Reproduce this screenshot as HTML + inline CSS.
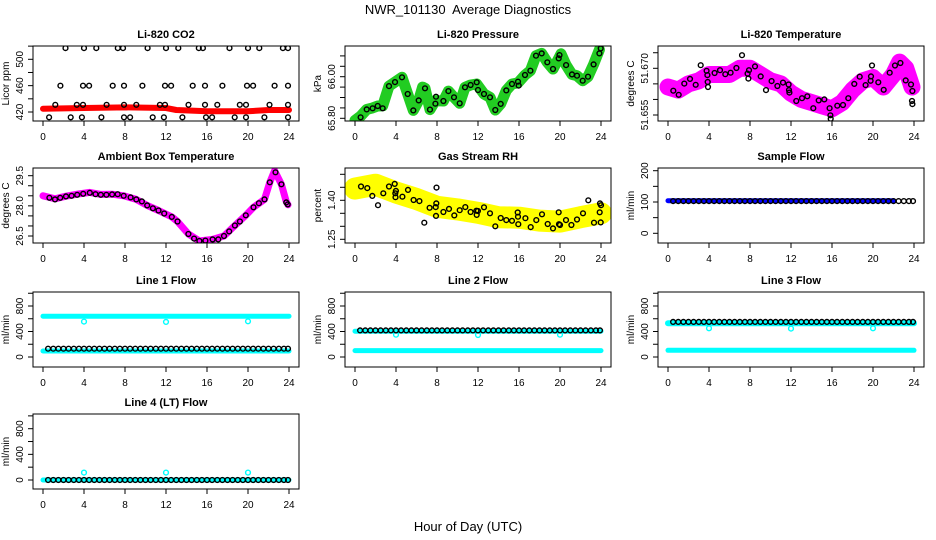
<!DOCTYPE html>
<html><head><meta charset="utf-8"><style>
html,body{margin:0;padding:0;background:#fff;}
svg{display:block;font-family:"Liberation Sans",Arial,sans-serif;}
</style></head><body>
<svg id="chart" width="936" height="540" viewBox="0 0 936 540" xmlns="http://www.w3.org/2000/svg">
<text x="468" y="14" text-anchor="middle" font-size="13">NWR_101130&#160; Average Diagnostics</text>
<text x="468" y="531" text-anchor="middle" font-size="13">Hour of Day (UTC)</text>
</svg>
<script>
// ---------- data ----------
const xTicks = [0,4,8,12,16,20,24];
const halfHours = [0.5,1,1.5,2,2.5,3,3.5,4,4.5,5,5.5,6,6.5,7,7.5,8,8.5,9,9.5,10,10.5,11,11.5,12,12.5,13,13.5,14,14.5,15,15.5,16,16.5,17,17.5,18,18.5,19,19.5,20,20.5,21,21.5,22,22.5,23,23.5,23.9];

// CO2
const co2BlackHours = [2.2,4,5.2,7.3,7.8,10.2,12,13.2,15.2,15.6,18.2,20,21.1,23.4,23.9,
 1.7,3.9,4.5,6.8,7.9,9.7,11.9,12.5,14.6,15.8,17.5,19.9,20.5,22.6,23.9,
 1.2,3.3,3.9,6.2,7.9,9.1,11.4,11.9,14.2,15.8,17.0,19.2,19.8,22.1,23.9,
 0.6,2.7,3.8,5.7,7.9,8.5,10.7,11.8,13.6,15.9,16.5,18.7,19.8,21.6,23.9];
const co2BlackValues = [517,517,517,517,517,517,517,517,517,517,517,517,517,517,517,
 460,460,460,460,460,460,460,460,460,460,460,460,460,460,460,
 431,431,431,431,431,431,431,431,431,431,431,431,431,431,431,
 412,412,412,412,412,412,412,412,412,412,412,412,412,412,412];
const co2BandHours = [0,4,8,12,13,16,20,22,24];
const co2BandValues = [425,426,427,426,423,421,421,423,423];

// Pressure
const presHours = [0.55,1.14,1.72,2.21,2.70,3.32,3.90,4.59,5.14,5.69,6.21,6.83,7.32,7.84,7.90,8.62,9.11,9.66,10.21,10.73,11.28,11.87,12.0,12.59,13.17,13.69,14.21,14.76,15.32,15.9,15.97,16.59,17.11,17.66,18.21,18.76,19.32,19.87,19.95,20.6,21.17,21.66,22.21,22.73,23.28,23.84,23.97];
const presValues = [65.805,65.843,65.848,65.859,65.848,65.955,65.974,65.997,65.917,65.838,65.886,65.944,65.842,65.870,65.904,65.883,65.931,65.901,65.872,65.949,65.960,65.973,65.936,65.917,65.901,65.840,65.869,65.934,65.965,65.976,65.957,66.008,66.029,66.101,66.112,66.069,66.037,66.088,66.104,66.056,66.011,66.005,65.981,66.000,66.059,66.112,66.136];
const presBandHours = [0,0.55,1.14,1.72,2.21,2.70,3.32,3.90,4.59,5.14,5.69,6.21,6.6,6.83,7.32,7.84,8.62,9.11,9.66,10.21,10.73,11.28,11.87,12.59,13.17,13.69,14.21,14.76,15.32,15.9,16.59,17.11,17.66,18.21,18.76,19.32,19.87,20.1,20.6,21.17,21.66,22.21,22.73,23.28,23.84];
const presBandValues = [65.79,65.81,65.843,65.85,65.859,65.86,65.955,65.974,65.997,65.917,65.838,65.886,65.95,65.944,65.842,65.885,65.883,65.931,65.901,65.872,65.949,65.960,65.965,65.917,65.901,65.840,65.869,65.934,65.965,65.970,66.008,66.029,66.101,66.112,66.069,66.037,66.088,66.11,66.056,66.011,66.005,65.981,66.000,66.059,66.130];

// Li-820 temperature
const tempHours = [0.52,1.04,1.59,2.15,2.70,3.19,3.77,3.84,3.87,3.90,4.55,5.07,5.59,6.11,6.67,7.22,7.77,7.84,7.90,8.49,9.04,9.56,10.11,10.67,11.22,11.77,11.80,11.84,12.52,13.07,13.59,14.18,14.70,15.25,15.77,15.84,15.87,16.52,17.07,17.59,18.18,18.70,19.28,19.77,19.80,19.90,20.52,21.04,21.63,22.15,22.67,23.19,23.71,23.84,23.80,23.84];
const tempValues = [51.6628,51.6615,51.6651,51.6666,51.6647,51.6710,51.6692,51.6678,51.6656,51.6640,51.6685,51.6694,51.6681,51.6686,51.6701,51.6742,51.6683,51.6667,51.6694,51.6706,51.6674,51.6630,51.6659,51.6643,51.6654,51.6648,51.6630,51.6622,51.6595,51.6604,51.6610,51.6572,51.6597,51.6600,51.6572,51.6549,51.6538,51.6580,51.6582,51.6604,51.6650,51.6673,51.6646,51.6660,51.6674,51.6709,51.6655,51.6631,51.6686,51.6709,51.6717,51.6661,51.6648,51.6627,51.6595,51.6585];
const tempBandHours = [0,1,2,3,4,5,6,7,8,9,10,11,12,13,14,15,16,17,18,19,20,21,22,22.6,23.2,23.8];
const tempBandValues = [51.664,51.663,51.665,51.666,51.668,51.668,51.668,51.670,51.670,51.668,51.666,51.665,51.662,51.660,51.659,51.658,51.657,51.659,51.663,51.666,51.667,51.664,51.668,51.672,51.670,51.664];

// Ambient box temperature
const ambHours = [0.62,1.17,1.68,2.24,2.79,3.34,3.92,4.57,5.12,5.64,6.19,6.74,7.29,7.87,8.55,9.10,9.65,10.17,10.72,11.27,11.82,12.57,13.12,14.19,14.74,15.26,15.84,16.55,17.10,17.66,18.17,18.72,19.21,19.79,20.54,21.06,21.61,22.13,22.68,23.26,23.74,23.87];
const ambValues = [28.40,28.32,28.40,28.47,28.50,28.55,28.60,28.65,28.58,28.55,28.55,28.57,28.58,28.50,28.42,28.32,28.22,28.02,27.88,27.77,27.62,27.45,27.22,26.60,26.37,26.25,26.27,26.33,26.33,26.50,26.73,27.02,27.22,27.53,27.93,28.13,28.32,29.17,29.67,29.07,28.17,28.07];
const ambBandHours = [0,0.62,1.17,2.24,3.34,4.57,5.64,6.74,7.87,9.10,10.17,11.27,12.57,13.12,14.19,15.26,16.55,17.66,18.72,19.79,20.54,21.61,22.13,22.6,23.26,23.74,23.9];
const ambBandValues = [28.50,28.42,28.35,28.48,28.58,28.67,28.57,28.58,28.50,28.32,28.02,27.77,27.45,27.22,26.60,26.25,26.33,26.50,27.02,27.53,27.93,28.32,29.17,29.75,29.07,28.20,28.05];

// Gas stream RH
const rhHours = [0.59,1.20,1.69,2.24,2.76,3.32,3.87,3.93,3.99,3.95,4.62,5.17,5.72,6.28,6.76,7.28,7.87,7.93,7.90,7.95,8.62,9.17,9.69,10.21,10.76,11.28,11.84,11.87,11.99,12.59,13.17,13.69,14.21,14.76,15.32,15.87,15.90,15.93,16.62,17.14,17.69,18.24,18.80,19.32,19.87,19.90,20.0,20.59,21.11,21.66,22.24,22.76,23.32,23.90,23.87,24.0,23.97];
const rhValues = [1.453,1.447,1.417,1.381,1.427,1.453,1.463,1.427,1.436,1.412,1.414,1.440,1.401,1.397,1.314,1.371,1.374,1.388,1.340,1.449,1.355,1.367,1.342,1.362,1.374,1.355,1.360,1.344,1.359,1.373,1.350,1.300,1.332,1.324,1.321,1.353,1.337,1.308,1.331,1.297,1.324,1.346,1.309,1.292,1.354,1.308,1.305,1.324,1.305,1.326,1.350,1.400,1.314,1.388,1.354,1.381,1.315];
const rhBandHours = [0,2,4,6,8,10,12,14,16,18,20,22,24];
const rhBandValues = [1.445,1.460,1.430,1.405,1.375,1.365,1.352,1.335,1.333,1.322,1.318,1.335,1.350];

// Flows (black circles: half-hour averages)
const sampleBlack = [103,103,103,103,103,103,103,103,103,103,103,103,103,103,103,103,103,103,103,103,103,103,103,103,103,103,103,103,103,103,103,103,103,103,103,103,103,103,103,103,103,103,103,103,103,103,103,103];
const sampleBandHours = [0,22];
const sampleBandValues = [104,104];

const line1Black = [130,130,130,130,130,130,130,130,130,130,130,130,130,130,130,130,130,130,130,130,130,130,130,130,130,130,130,130,130,130,130,130,130,130,130,130,130,130,130,130,130,130,130,130,130,130,130,130];
const line1TopHours = [0,24]; const line1TopValues = [640,640];
const line1LowHours = [0,24]; const line1LowValues = [94,94];
const line1DipHours = [4,12,20]; const line1DipValues = [555,550,560];

const line2Black = [418,418,418,418,418,418,418,418,418,418,418,418,418,418,418,418,418,418,418,418,418,418,418,418,418,418,418,418,418,418,418,418,418,418,418,418,418,418,418,418,418,418,418,418,418,418,418,418];
const line2TopHours = [0,24]; const line2TopValues = [405,405];
const line2LowHours = [0,24]; const line2LowValues = [100,100];
const line2DipHours = [4,12,20]; const line2DipValues = [350,345,350];

const line3Black = [550,550,550,550,550,550,550,550,550,550,550,550,550,550,550,550,550,550,550,550,550,550,550,550,550,550,550,550,550,550,550,550,550,550,550,550,550,550,550,550,550,550,550,550,550,550,550,550];
const line3TopHours = [0,24]; const line3TopValues = [530,530];
const line3LowHours = [0,24]; const line3LowValues = [105,105];
const line3DipHours = [4,12,20]; const line3DipValues = [450,445,450];

const line4Black = [0,0,0,0,0,0,0,0,0,0,0,0,0,0,0,0,0,0,0,0,0,0,0,0,0,0,0,0,0,0,0,0,0,0,0,0,0,0,0,0,0,0,0,0,0,0,0,0];
const line4BandHours = [0,24]; const line4BandValues = [0,0];
const line4SpikeHours = [4,12,20]; const line4SpikeValues = [115,115,115];

// ---------- drawing ----------
const NS = "http://www.w3.org/2000/svg";
const svg = document.getElementById('chart');
function mk(tag, attrs, parent){
  const e = document.createElementNS(NS, tag);
  for (const k in attrs) e.setAttribute(k, attrs[k]);
  (parent||svg).appendChild(e);
  return e;
}
const colLeft = [33,345,658], rowTop = [46,168,292,414], W = 266, H = 75;

function panel(o){
  const L = colLeft[o.col], T = rowTop[o.row];
  const g = mk('g', {});
  
  
  const xs = h => L + 10 + h * (246/24);
  const k = (o.p2 - o.p1) / (o.v2 - o.v1);
  const ys = v => o.p1 + (v - o.v1) * k;
  const t = mk('text', {x: L + W/2, y: T - 8, 'text-anchor':'middle', 'font-size':11, 'font-weight':'bold'}, g);
  t.textContent = o.title;
  
  
  const cid = 'clip' + o.row + o.col;
  const cp = mk('clipPath', {id: cid}, g);
  mk('rect', {x: L, y: T, width: W, height: H}, cp);
  const plot = mk('g', {'clip-path': 'url(#' + cid + ')'}, g);
  (o.bands||[]).forEach(b => {
    const pts = b.h.map((h,i) => xs(h).toFixed(1) + ',' + ys(b.v[i]).toFixed(1)).join(' ');
    const pl = mk('polyline', {points: pts, fill:'none', stroke: b.color, 'stroke-width': b.w, 'stroke-linejoin':'round', 'stroke-linecap':'round'}, plot);
    
    
  });
  (o.points||[]).forEach(s => {
    s.h.forEach((h,i) => {
      const c = mk('circle', {cx: xs(h).toFixed(1), cy: ys(s.v[i]).toFixed(1), r: s.r||2.4, fill:'none', stroke: s.color, 'stroke-width': s.sw||1.4}, plot);
      
      
    });
  });
  const box = mk('rect', {x: L, y: T, width: W, height: H, fill:'none', stroke:'#000', 'stroke-width':1}, g);
  
  
  const B = T + H;
  xTicks.forEach(v => {
    mk('line', {x1: xs(v), x2: xs(v), y1: B, y2: B + 5, stroke:'#000'}, g);
    const tl = mk('text', {x: xs(v), y: B + 19, 'text-anchor':'middle', 'font-size':10}, g);
    tl.textContent = v;
    
    
  });
  o.yTicks.forEach(v => {
    mk('line', {x1: L - 5, x2: L, y1: ys(v), y2: ys(v), stroke:'#000'}, g);
  });
  o.yLabels.forEach((v,i) => {
    const y = ys(v), x = L - 10;
    const yl = mk('text', {x: x, y: y, 'text-anchor':'middle', 'font-size':10, transform: 'rotate(-90 ' + x + ' ' + y + ')'}, g);
    yl.textContent = o.yLabelText[i];
    
    
  });
  const ax = L - 24, ay = T + H/2;
  const yt = mk('text', {x: ax, y: ay, 'text-anchor':'middle', 'font-size':10, transform: 'rotate(-90 ' + ax + ' ' + ay + ')'}, g);
  yt.textContent = o.ytitle;
  
  
}

const flowTicks = [0,200,400,600,800,1000], flowLab = [0,400,800], flowLabT = ['0','400','800'];

panel({name:'co2-panel', title:'Li-820 CO2', col:0,row:0, v1:420,p1:112,v2:500,p2:59.3,
  yTicks:[420,440,460,480,500,520], yLabels:[420,460,500], yLabelText:['420','460','500'], ytitle:'Licor ppm',
  bands:[{h:co2BandHours, v:co2BandValues, color:'#ff0000', w:6}],
  points:[{h:co2BlackHours, v:co2BlackValues, color:'#000'}]});
panel({name:'pressure-panel', title:'Li-820 Pressure', col:1,row:0, v1:65.80,p1:118.3,v2:66.00,p2:76.7,
  yTicks:[65.80,65.85,65.90,65.95,66.00,66.05,66.10], yLabels:[65.80,66.00], yLabelText:['65.80','66.00'], ytitle:'kPa',
  bands:[{h:presBandHours, v:presBandValues, color:'#22cc22', w:11}],
  points:[{h:presHours, v:presValues, color:'#000'}]});
panel({name:'li820-temperature-panel', title:'Li-820 Temperature', col:2,row:0, v1:51.655,p1:115,v2:51.670,p2:68.3,
  yTicks:[51.655,51.660,51.665,51.670,51.675], yLabels:[51.655,51.670], yLabelText:['51.655','51.670'], ytitle:'degrees C',
  bands:[{h:tempBandHours, v:tempBandValues, color:'#ff00ff', w:17}],
  points:[{h:tempHours, v:tempValues, color:'#000'}]});
panel({name:'ambient-temperature-panel', title:'Ambient Box Temperature', col:0,row:1, v1:26.5,p1:236,v2:29.5,p2:175.7,
  yTicks:[26.5,27,27.5,28,28.5,29,29.5], yLabels:[26.5,28,29.5], yLabelText:['26.5','28.0','29.5'], ytitle:'degrees C',
  bands:[{h:ambBandHours, v:ambBandValues, color:'#ff00ff', w:7}],
  points:[{h:ambHours, v:ambValues, color:'#000'}]});
panel({name:'gas-rh-panel', title:'Gas Stream RH', col:1,row:1, v1:1.25,p1:239.3,v2:1.40,p2:200.3,
  yTicks:[1.25,1.30,1.35,1.40,1.45,1.50], yLabels:[1.25,1.40], yLabelText:['1.25','1.40'], ytitle:'percent',
  bands:[{h:rhBandHours, v:rhBandValues, color:'#ffff00', w:22}],
  points:[{h:rhHours, v:rhValues, color:'#000'}]});
panel({name:'sample-flow-panel', title:'Sample Flow', col:2,row:1, v1:0,p1:233.3,v2:200,p2:170.7,
  yTicks:[0,50,100,150,200], yLabels:[0,100,200], yLabelText:['0','100','200'], ytitle:'ml/min',
  bands:[{h:sampleBandHours, v:sampleBandValues, color:'#0000ff', w:5}],
  points:[{h:halfHours, v:sampleBlack, color:'#000'}]});
panel({name:'line1-flow-panel', title:'Line 1 Flow', col:0,row:2, v1:0,p1:357,v2:800,p2:306,
  yTicks:flowTicks, yLabels:flowLab, yLabelText:flowLabT, ytitle:'ml/min',
  bands:[{h:line1TopHours, v:line1TopValues, color:'#00ffff', w:5},{h:line1LowHours, v:line1LowValues, color:'#00ffff', w:5}],
  points:[{h:line1DipHours, v:line1DipValues, color:'#00ffff'},{h:halfHours, v:line1Black, color:'#000'}]});
panel({name:'line2-flow-panel', title:'Line 2 Flow', col:1,row:2, v1:0,p1:357,v2:800,p2:306,
  yTicks:flowTicks, yLabels:flowLab, yLabelText:flowLabT, ytitle:'ml/min',
  bands:[{h:line2TopHours, v:line2TopValues, color:'#00ffff', w:5},{h:line2LowHours, v:line2LowValues, color:'#00ffff', w:5}],
  points:[{h:line2DipHours, v:line2DipValues, color:'#00ffff'},{h:halfHours, v:line2Black, color:'#000'}]});
panel({name:'line3-flow-panel', title:'Line 3 Flow', col:2,row:2, v1:0,p1:357,v2:800,p2:306,
  yTicks:flowTicks, yLabels:flowLab, yLabelText:flowLabT, ytitle:'ml/min',
  bands:[{h:line3TopHours, v:line3TopValues, color:'#00ffff', w:6},{h:line3LowHours, v:line3LowValues, color:'#00ffff', w:5}],
  points:[{h:line3DipHours, v:line3DipValues, color:'#00ffff'},{h:halfHours, v:line3Black, color:'#000'}]});
panel({name:'line4-flow-panel', title:'Line 4 (LT) Flow', col:0,row:3, v1:0,p1:480,v2:800,p2:428.7,
  yTicks:flowTicks, yLabels:flowLab, yLabelText:flowLabT, ytitle:'ml/min',
  bands:[{h:line4BandHours, v:line4BandValues, color:'#00ffff', w:5}],
  points:[{h:line4SpikeHours, v:line4SpikeValues, color:'#00ffff'},{h:halfHours, v:line4Black, color:'#000'}]});
</script>
</body></html>
